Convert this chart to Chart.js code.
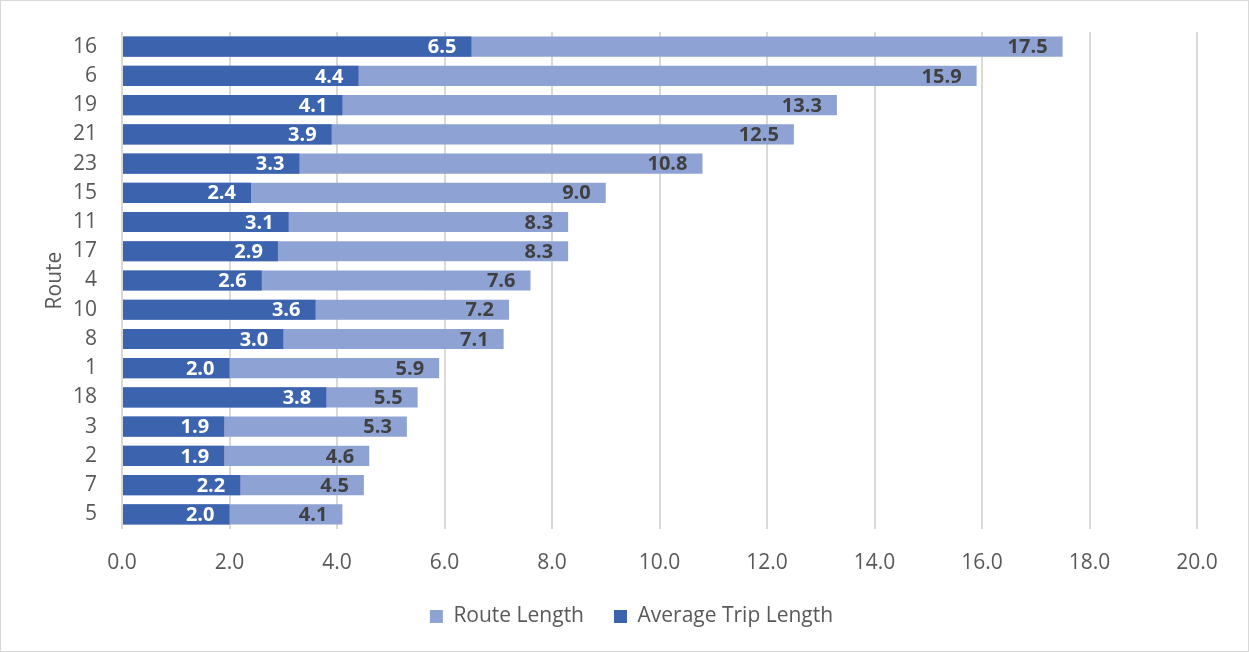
<!DOCTYPE html>
<html>
<head>
<meta charset="utf-8">
<script src="https://cdn.jsdelivr.net/npm/chart.js@4/dist/chart.umd.min.js"></script>
<style>
  html, body { margin: 0; padding: 0; background: #fff; }
  #wrap { width: 1249px; height: 652px; box-sizing: border-box; border: 1px solid #d9d9d9; position: relative; }
</style>
</head>
<body>
<div id="wrap"><canvas id="graficoRutas"></canvas></div>
<script>
const rutas = ["16", "6", "19", "21", "23", "15", "11", "17", "4", "10", "8", "1", "18", "3", "2", "7", "5"]
const longitudRuta = [17.5, 15.9, 13.3, 12.5, 10.8, 9.0, 8.3, 8.3, 7.6, 7.2, 7.1, 5.9, 5.5, 5.3, 4.6, 4.5, 4.1]
const longitudViaje = [6.5, 4.4, 4.1, 3.9, 3.3, 2.4, 3.1, 2.9, 2.6, 3.6, 3.0, 2.0, 3.8, 1.9, 1.9, 2.2, 2.0]

const fuente = "'Open Sans', sans-serif"

// etiquetas de valor dentro del final de cada barra
const etiquetasBarras = {
    id: "etiquetasBarras",
    afterLayout(chart) {
        // la leyenda va un poco más a la derecha, centrada en el lienzo
        chart.legend.left += 14
        chart.legend.right += 14
    },
    afterDatasetsDraw(chart) {
        const ctx = chart.ctx
        ctx.save()
        ctx.font = "bold 20px " + fuente
        ctx.textAlign = "right"
        ctx.textBaseline = "middle"
        chart.data.datasets.forEach((ds, i) => {
            const meta = chart.getDatasetMeta(i)
            ctx.fillStyle = ds.colorEtiqueta
            meta.data.forEach((barra, j) => {
                ctx.fillText(ds.data[j].toFixed(1), barra.x - 15, barra.y + 1)
            })
        })
        ctx.restore()
    },
}

const dataGraficoRutas = {
    labels: rutas,
    datasets: [
        {
            label: "Route Length",
            backgroundColor: "#8fa2d4",
            data: longitudRuta,
            order: 1,
            colorEtiqueta: "#404040",
        },
        {
            label: "Average Trip Length",
            backgroundColor: "#3c64ae",
            data: longitudViaje,
            order: 0,
            colorEtiqueta: "#ffffff",
        },
    ],
};

const configGraficoRutas = {
    type: "bar",
    data: dataGraficoRutas,
    plugins: [etiquetasBarras],
    options: {
        indexAxis: "y",
        responsive: true,
        maintainAspectRatio: false,
        animation: false,
        datasets: {
            bar: {
                grouped: false,
                categoryPercentage: 1,
                barPercentage: 0.69,
            },
        },
        layout: {
            padding: { top: 31, right: 51, bottom: 14, left: 37 },
        },
        plugins: {
            tooltip: { enabled: false },
            legend: {
                display: true,
                position: "bottom",
                labels: {
                    boxWidth: 13,
                    boxHeight: 13,
                    padding: 30,
                    color: "#595959",
                    font: { size: 21, family: fuente },
                    sort: (a, b) => a.datasetIndex - b.datasetIndex,
                },
            },
        },
        scales: {
            x: {
                min: 0,
                max: 20,
                ticks: {
                    stepSize: 2,
                    padding: 21,
                    color: "#595959",
                    font: { size: 21, family: fuente },
                    callback: v => v.toFixed(1),
                },
                grid: { color: "#d9d9d9", lineWidth: 2, drawTicks: false },
                border: { display: false },
                afterFit: scale => { scale.height = 47 },
            },
            y: {
                ticks: {
                    padding: 25,
                    color: "#595959",
                    font: { size: 21, family: fuente },
                },
                grid: { display: false, drawTicks: false },
                border: { display: false },
                title: {
                    display: true,
                    text: "Route",
                    color: "#595959",
                    font: { size: 21, family: fuente },
                },
                afterFit: scale => {
                    scale.width = 84
                    scale.paddingTop = 0
                    scale.paddingBottom = 0
                },
            },
        },
    },
};

const chart1 = new Chart(
    document.getElementById("graficoRutas"),
    configGraficoRutas
);
</script>
</body>
</html>
